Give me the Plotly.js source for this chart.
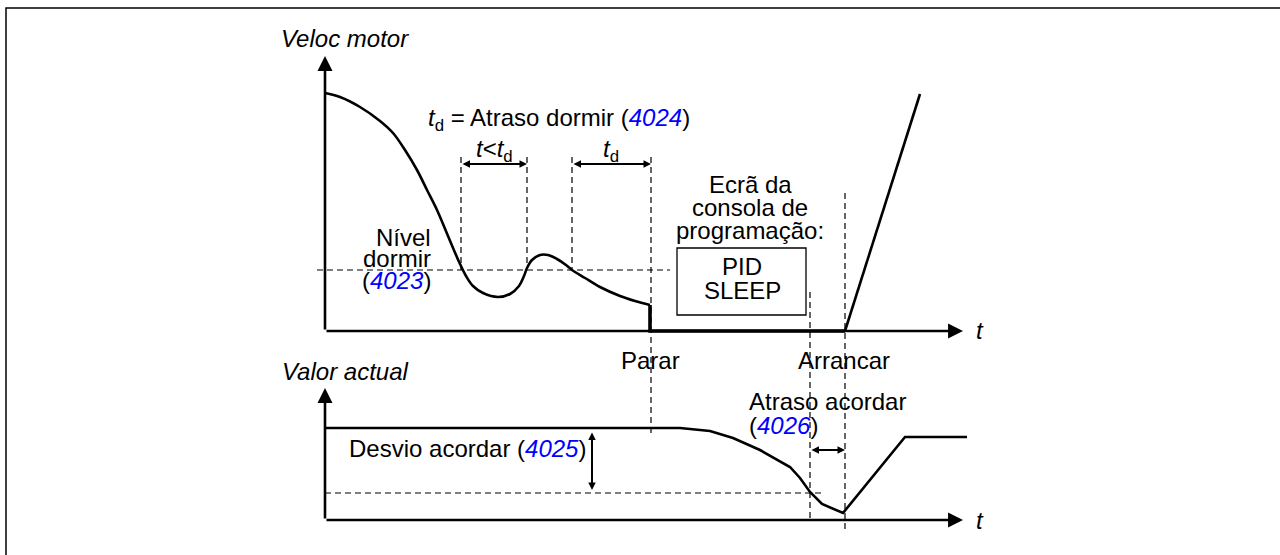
<!DOCTYPE html>
<html>
<head>
<meta charset="utf-8">
<script src="https://cdn.plot.ly/plotly-3.0.1.min.js"></script>
<style>body{margin:0;background:#fff}</style>
</head>
<body>
<div id="chart" style="width:1280px;height:555px"></div>
<script>
// top plot: motor speed, t from the y axis, speed up from the t axis
const speedT = [0, 15, 35, 55, 68, 80, 92, 102, 112, 123, 135, 141, 148, 158, 173, 185, 194, 199, 202, 207, 215, 223, 232, 241, 247, 260, 275, 295, 310, 325];
const speedV = [238, 234, 224, 210, 198, 181, 161, 141, 121, 95, 67, 55, 45, 38, 34, 37, 45, 55, 63, 71, 76, 76, 72, 66, 61, 53, 44, 35, 30, 26];
// stopped: drop to zero and stay there until restart
const stopT = [325, 325, 520];
const stopV = [26, 0, 0];
const rampT = [520, 595];
const rampV = [0, 237];

// bottom plot: actual value
const actT = [0, 355, 385, 408, 435, 455, 465, 475, 485, 497, 518, 580, 642];
const actV = [92, 92, 89, 82, 70, 59, 53, 42, 28, 16, 7, 83, 83];

// levels and instants
const sleepLevel = 61;
const wakeLevel = 27;
const tShort0 = 136, tShort1 = 202;   // t < td
const tDelay0 = 247, tStop = 326;     // td
const tWake = 485, tStart = 520;      // wake delay

const FONT = 'Liberation Sans, Arial, sans-serif';
const BLUE = '#0000ff';

const dash = '6px,4px';
const thin = {color: 'black', width: 1.2, dash: dash};

const data = [
  // dashed guide lines on top plot
  {x: [-8, 345], y: [sleepLevel, sleepLevel], mode: 'lines', line: thin, yaxis: 'y'},
  {x: [tShort0, tShort0, null, tShort1, tShort1, null, tDelay0, tDelay0],
   y: [174, sleepLevel, null, 174, sleepLevel + 2, null, 174, sleepLevel],
   mode: 'lines', line: thin, yaxis: 'y'},
  {x: [tStop, tStop], y: [174, -104], mode: 'lines', line: thin, yaxis: 'y'},
  {x: [tWake, tWake], y: [39, -190], mode: 'lines', line: thin, yaxis: 'y'},
  {x: [tStart, tStart], y: [138, -202], mode: 'lines', line: thin, yaxis: 'y'},
  // dashed wake level on bottom plot
  {x: [0, 497], y: [wakeLevel, wakeLevel], mode: 'lines', line: thin, yaxis: 'y2'},
  // curves
  {x: speedT, y: speedV, mode: 'lines', line: {color: 'black', width: 2.6, shape: 'spline'}, yaxis: 'y'},
  {x: stopT, y: stopV, mode: 'lines', line: {color: 'black', width: 3.6}, yaxis: 'y'},
  {x: rampT, y: rampV, mode: 'lines', line: {color: 'black', width: 2.6}, yaxis: 'y'},
  {x: actT, y: actV, mode: 'lines', line: {color: 'black', width: 2.6}, yaxis: 'y2'}
];

function txt(x, y, text, yref, xanchor, italic) {
  return {
    x: x, y: y, xref: 'x', yref: yref, text: italic ? '<i>' + text + '</i>' : text,
    showarrow: false, xanchor: xanchor, yanchor: 'middle', borderpad: 0,
    font: {family: FONT, size: 24, color: 'black'}
  };
}

function arrow(x0, y0, x1, y1, yref, w, size, both) {
  return {
    x: x1, y: y1, ax: x0, ay: y0, xref: 'x', yref: yref, axref: 'x', ayref: yref,
    text: '', showarrow: true, arrowhead: 2, arrowsize: size, arrowwidth: w,
    arrowcolor: 'black', arrowside: both ? 'end+start' : 'end',
    startarrowhead: 2, startarrowsize: size, standoff: 0, startstandoff: 0
  };
}

const blue = s => '(<span style="color:' + BLUE + '"><i>' + s + '</i></span>)';

const annotations = [
  // axes with arrow tips
  arrow(0, 0, 638, 0, 'y', 2.6, 1.15, false),
  arrow(0, 0, 0, 275, 'y', 2.6, 1.15, false),
  arrow(0, 0, 638, 0, 'y2', 2.6, 1.15, false),
  arrow(0, 0, 0, 132, 'y2', 2.6, 1.15, false),
  // time spans
  arrow(tShort0, 167, tShort1, 167, 'y', 2, 0.75, true),
  arrow(tDelay0, 167, tStop, 167, 'y', 2, 0.75, true),
  arrow(267, 89, 267, 30, 'y2', 2, 0.75, true),
  arrow(tWake, 70, tStart, 70, 'y2', 2, 0.75, true),
  // labels
  txt(-45, 292.5, 'Veloc motor', 'y', 'left', true),
  txt(102, 212, '<i>t</i><sub>d</sub> = Atraso dormir ' + blue('4024'), 'y', 'left'),
  txt(169, 180.5, '<i>t</i>&lt;<i>t</i><sub>d</sub>', 'y', 'center'),
  txt(286, 180.5, '<i>t</i><sub>d</sub>', 'y', 'center'),
  txt(107, 94, 'Nível', 'y', 'right'),
  txt(107, 72.5, 'dormir', 'y', 'right'),
  txt(107, 51, blue('4023'), 'y', 'right'),
  txt(425, 147, 'Ecrã da', 'y', 'center'),
  txt(425, 124, 'consola de', 'y', 'center'),
  txt(425, 101, 'programação:', 'y', 'center'),
  txt(417, 65, 'PID', 'y', 'center'),
  txt(417, 41, 'SLEEP', 'y', 'center'),
  txt(325, -29, 'Parar', 'y', 'center'),
  txt(519, -29, 'Arrancar', 'y', 'center'),
  txt(655, 1, 't', 'y', 'center', true),
  txt(-44, 149, 'Valor actual', 'y2', 'left', true),
  txt(23, 72, 'Desvio acordar ' + blue('4025'), 'y2', 'left'),
  txt(423, 119, 'Atraso acordar', 'y2', 'left'),
  txt(423, 95, blue('4026'), 'y2', 'left'),
  txt(655, 0, 't', 'y2', 'center', true)
];

const layout = {
  width: 1280,
  height: 555,
  margin: {l: 0, r: 0, t: 0, b: 0, pad: 0},
  paper_bgcolor: 'white',
  plot_bgcolor: 'white',
  showlegend: false,
  xaxis: {range: [-325, 955], visible: false, fixedrange: true},
  yaxis: {range: [-224, 331], visible: false, fixedrange: true},
  yaxis2: {range: [-35, 520], visible: false, overlaying: 'y', fixedrange: true},
  shapes: [
    // console display box
    {type: 'rect', xref: 'x', yref: 'y', x0: 352, x1: 481, y0: 16, y1: 83,
     line: {color: 'black', width: 1.3}, fillcolor: 'rgba(0,0,0,0)'},
    // page frame (top and left edges)
    {type: 'path', xref: 'x', yref: 'y', path: 'M -319,-224 L -319,323 L 955,323',
     line: {color: 'black', width: 1.5}}
  ],
  annotations: annotations,
  font: {family: FONT, size: 24}
};

Plotly.newPlot('chart', data, layout, {displayModeBar: false, staticPlot: true});
</script>
</body>
</html>
